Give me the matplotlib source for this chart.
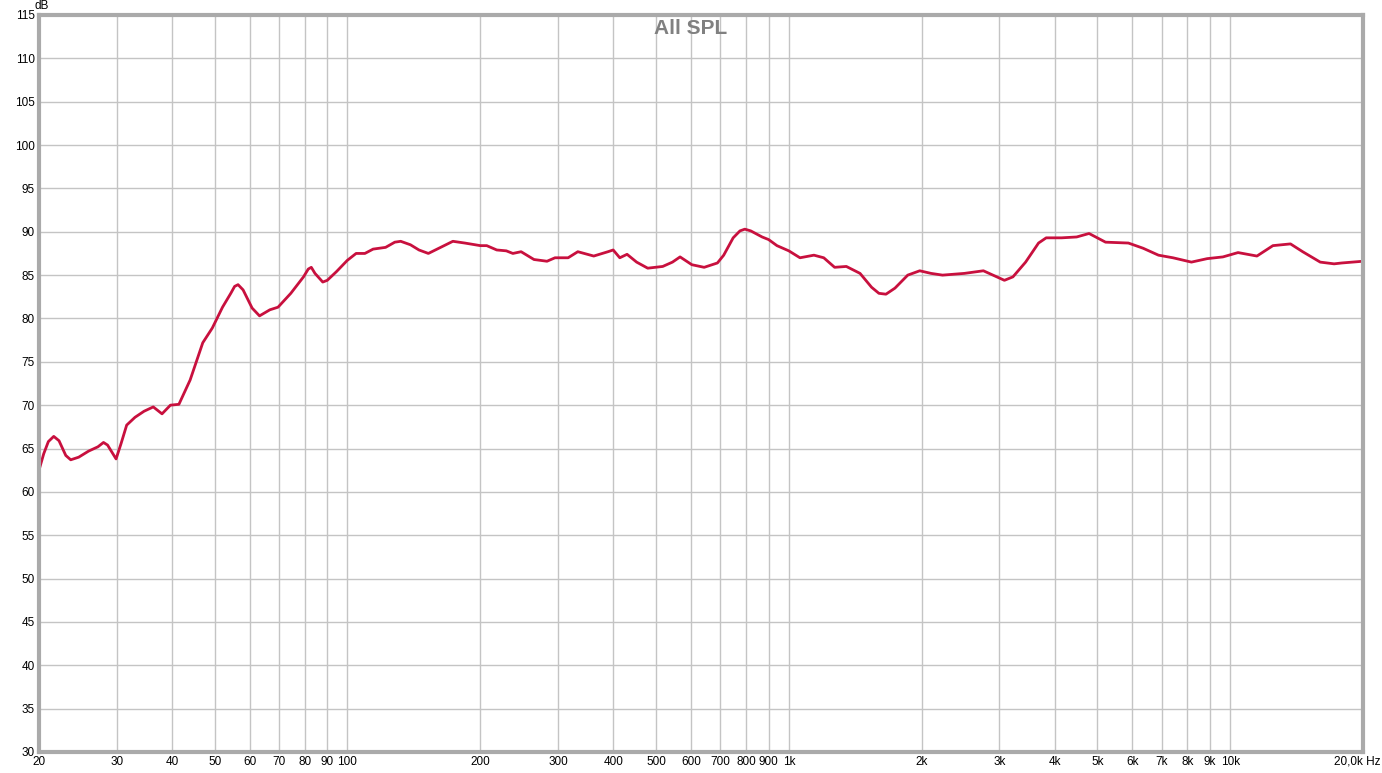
import numpy as np
import matplotlib.pyplot as plt
from matplotlib.ticker import FixedLocator, NullLocator, NullFormatter

# Respuesta en frecuencia (Hz, dB)
freq = [20, 20.5, 21.0, 21.6, 22.2, 23.0, 23.6, 24.6, 25.9, 27.2, 28.0, 28.6, 29.9,
        30.7, 31.6, 33.0, 34.6, 36.3, 38.0, 39.7, 41.5, 44.0, 47.0, 49.4, 52.1, 54.4,
        55.5, 56.5, 58.0, 60.8, 63.2, 66.7, 69.6, 74.4, 79.5, 81.5, 82.8, 84.4, 87.9, 90.0, 94.4,
        99.9, 104.6, 109.5, 114.3, 122, 128, 132, 138.9, 145.2, 152.5, 159.6, 173.3, 184.4,
        200, 206.8, 217.9, 229, 237, 247.4, 264.6, 283.2, 295.3, 316.2, 332.6, 361.4,
        389.3, 400, 414, 430, 452, 479, 518, 545, 567, 603, 643, 689, 712, 748, 775, 795,
        820, 870, 900, 940, 1000, 1060, 1140, 1200, 1270, 1350, 1450, 1540, 1600, 1660, 1740,
        1860, 1980, 2100, 2230, 2500, 2760, 2960, 3080, 3220, 3440, 3680, 3830, 4150,
        4490, 4790, 5220, 5880, 6350, 6880, 7420, 8170, 8870, 9630, 10420, 11500, 12500,
        13700, 14600, 16000, 17200, 17900, 20000]
spl = [62.5, 64.4, 65.8, 66.4, 65.9, 64.2, 63.7, 64.0, 64.7, 65.2, 65.7, 65.4, 63.8,
       65.6, 67.7, 68.6, 69.3, 69.8, 69.0, 70.0, 70.1, 72.9, 77.2, 78.9, 81.3, 82.9,
       83.7, 83.9, 83.3, 81.2, 80.3, 81.0, 81.3, 82.9, 84.8, 85.7, 85.9, 85.2, 84.2, 84.4, 85.4,
       86.7, 87.5, 87.5, 88.0, 88.2, 88.8, 88.9, 88.5, 87.9, 87.5, 88.0, 88.9, 88.7,
       88.4, 88.4, 87.9, 87.8, 87.5, 87.7, 86.8, 86.6, 87.0, 87.0, 87.7, 87.2,
       87.7, 87.9, 87.0, 87.4, 86.5, 85.8, 86.0, 86.5, 87.1, 86.2, 85.9, 86.4, 87.3, 89.3, 90.1, 90.3,
       90.1, 89.4, 89.1, 88.4, 87.8, 87.0, 87.3, 87.0, 85.9, 86.0, 85.2, 83.6, 82.9, 82.8, 83.5,
       85.0, 85.5, 85.2, 85.0, 85.2, 85.5, 84.8, 84.4, 84.8, 86.5, 88.7, 89.3, 89.3,
       89.4, 89.8, 88.8, 88.7, 88.1, 87.3, 87.0, 86.5, 86.9, 87.1, 87.6, 87.2, 88.4,
       88.6, 87.7, 86.5, 86.3, 86.4, 86.6]

xticks = [20, 30, 40, 50, 60, 70, 80, 90, 100, 200, 300, 400, 500, 600, 700, 800, 900,
          1000, 2000, 3000, 4000, 5000, 6000, 7000, 8000, 9000, 10000, 20000]
xlabels = ['20', '30', '40', '50', '60', '70', '80', '90', '100', '200', '300', '400',
           '500', '600', '700', '800', '900', '1k', '2k', '3k', '4k', '5k', '6k', '7k',
           '8k', '9k', '10k', '']
yticks = list(range(30, 116, 5))

plt.rcParams['font.family'] = ['Liberation Sans', 'DejaVu Sans']

fig = plt.figure(figsize=(13.82, 7.73), dpi=100)
ax = fig.add_axes([39 / 1382, 1 - 752 / 773, (1363 - 39) / 1382, (752 - 15) / 773])

ax.plot(freq, spl, color='#c8103e', lw=2.0, solid_joinstyle='round',
        solid_capstyle='round', antialiased=True)

ax.set_xscale('log')
ax.set_xlim(20, 20000)
ax.set_ylim(30, 115)
ax.xaxis.set_major_locator(FixedLocator(xticks))
ax.xaxis.set_minor_locator(NullLocator())
ax.xaxis.set_minor_formatter(NullFormatter())
ax.set_xticklabels(xlabels)
ax.set_yticks(yticks)
ax.grid(True, color='#c4c4c4', lw=1)
ax.tick_params(length=0, labelsize=8.5, pad=3)

for s in ax.spines.values():
    s.set_color('#aaaaaa')
    s.set_linewidth(3)

ax.text(0.4925, 0.995, 'All SPL', transform=ax.transAxes, ha='center', va='top',
        fontsize=15, fontweight='bold', color='#808080')
fig.text(42 / 1382, 1 - 6 / 773, 'dB', ha='center', va='center', fontsize=8.5)
fig.text(1381 / 1382, 1 - 762 / 773, '20,0k Hz', ha='right', va='center', fontsize=8.5)

fig.savefig('out.png', dpi=100)
